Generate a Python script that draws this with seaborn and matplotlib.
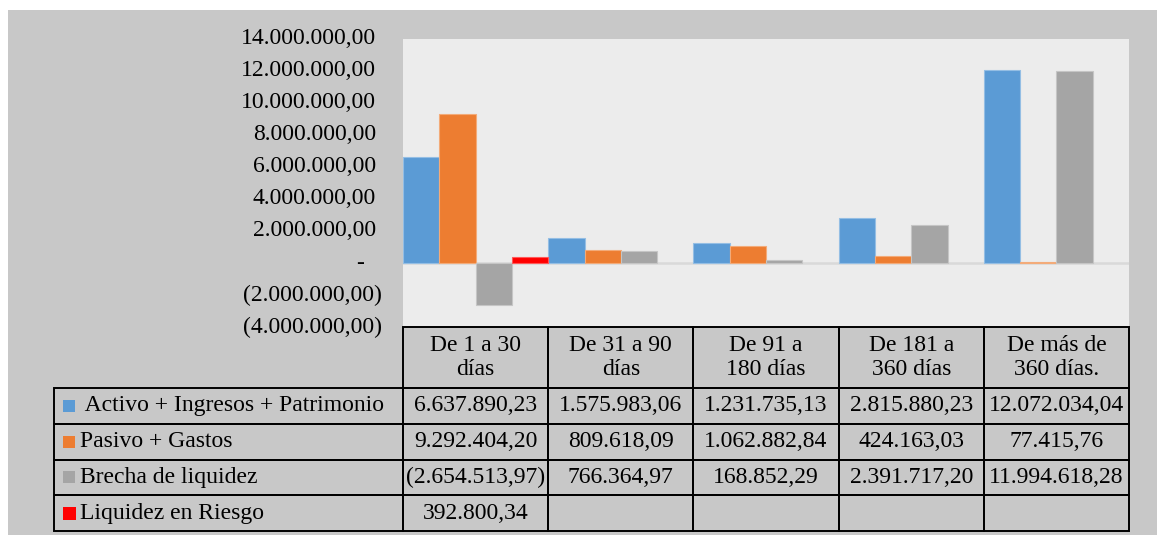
import matplotlib
matplotlib.use("Agg")
import matplotlib.pyplot as plt
from matplotlib import transforms
from matplotlib.patches import Rectangle
from matplotlib.table import Table
import matplotlib.colors as mcolors
import seaborn as sns
import pandas as pd

# ---- data -------------------------------------------------------------
periodos = ["De 1 a 30 días", "De 31 a 90 días", "De 91 a 180 días",
            "De 181 a 360 días", "De más de 360 días."]
encabezados = ["De 1 a 30\ndías", "De 31 a 90\ndías", "De 91 a\n180 días",
               "De 181 a\n360 días", "De más de\n360 días."]
series = ["Activo + Ingresos + Patrimonio", "Pasivo + Gastos",
          "Brecha de liquidez", "Liquidez en Riesgo"]
activo = [6637890.23, 1575983.06, 1231735.13, 2815880.23, 12072034.04]
pasivo = [9292404.20, 809618.09, 1062882.84, 424163.03, 77415.76]
brecha = [-2654513.97, 766364.97, 168852.29, 2391717.20, 11994618.28]
riesgo = [392800.34, None, None, None, None]
colores = ["#5b9bd5", "#ed7d31", "#a5a5a5", "#ff0000"]
yticks = [-4e6, -2e6, 0, 2e6, 4e6, 6e6, 8e6, 10e6, 12e6, 14e6]

valores = [activo, pasivo, brecha, riesgo]
FS = 17


def formato(v):
    """Spanish accounting style: 1.234,56 / (1.234,56) / -"""
    if v == 0:
        return "-"
    s = f"{abs(v):,.2f}".replace(",", "X").replace(".", ",").replace("X", ".")
    return f"({s})" if v < 0 else s


rows = []
for nombre, vals in zip(series, valores):
    for p, v in zip(periodos, vals):
        if v is not None:
            rows.append({"periodo": p, "serie": nombre, "valor": v})
df = pd.DataFrame(rows)

# ---- figure -----------------------------------------------------------
plt.rcParams["font.family"] = ["Liberation Serif", "DejaVu Serif"]
W, H = 1157, 535
fig = plt.figure(figsize=(W / 100, H / 100), dpi=100, facecolor="white")
fig.add_artist(Rectangle((8 / W, 0), 1 - 8 / W, 1 - 10 / H, transform=fig.transFigure,
                         facecolor="#c8c8c8", edgecolor="none", zorder=-5))

ax = fig.add_axes([403 / W, 1 - 327 / H, 726 / W, 288 / H])
ax.set_facecolor("#ececec")

sns.barplot(data=df, x="periodo", y="valor", hue="serie", order=periodos,
            hue_order=series, palette=colores, width=1.0, gap=0, saturation=1,
            errorbar=None, legend=False, ax=ax, zorder=2)

for bar in ax.patches:
    fc = mcolors.to_rgb(bar.get_facecolor())
    edge = tuple(c + (1 - c) * 0.35 for c in fc)
    bar.set_edgecolor(edge)
    bar.set_linewidth(0.8)

ax.axhline(0, color="#d9d9d9", lw=1.8, zorder=1)
ax.set_xlim(-0.5, len(periodos) - 0.5)
ax.set_ylim(yticks[0], yticks[-1])
ax.set_xticks([])
ax.set_yticks([])
ax.set_xlabel("")
ax.set_ylabel("")
for sp in ax.spines.values():
    sp.set_visible(False)

# y axis labels in accounting layout
ytr = transforms.blended_transform_factory(ax.transAxes, ax.transData)
for v in yticks:
    off = 39 if v == 0 else (21 if v < 0 else 27)
    tr = ytr + transforms.ScaledTranslation(-off / 100, 0, fig.dpi_scale_trans)
    ax.text(0, v, formato(v), transform=tr, ha="right", va="center",
            fontsize=FS, color="black", clip_on=False)

# ---- data table -------------------------------------------------------
x0 = (54 - 403) / 726
tw = (1129 - 54) / 726
th = 204 / 288
tabla = Table(ax, bbox=[x0, -th, tw, th])
lab_w, col_w = 349, 145.2
head_h, row_h = 61, 35.75
for j, enc in enumerate(encabezados, start=1):
    c = tabla.add_cell(0, j, col_w, head_h, text=enc, loc="center",
                       facecolor="none", edgecolor="black")
    c.get_text().set_multialignment("center")
    c.get_text().set_linespacing(1.2)
for i, (nombre, vals) in enumerate(zip(series, valores), start=1):
    etiqueta = (" " if i == 1 else "") + nombre
    c = tabla.add_cell(i, 0, lab_w, row_h, text=etiqueta, loc="left",
                       facecolor="none", edgecolor="black")
    c.PAD = 26 / lab_w
    for j, v in enumerate(vals, start=1):
        tabla.add_cell(i, j, col_w, row_h, text="" if v is None else formato(v),
                       loc="center", facecolor="none", edgecolor="black")
tabla.auto_set_font_size(False)
tabla.set_fontsize(FS)
for cell in tabla.get_celld().values():
    cell.set_linewidth(1.4)
ax.add_table(tabla)

# legend keys inside the label column
centros = [406, 441.5, 477, 513]
for color, cy in zip(colores, centros):
    s = 13 if color == "#ff0000" else 12
    fig.add_artist(Rectangle((63 / W, 1 - (cy + s / 2) / H), s / W, s / H,
                             transform=fig.transFigure, facecolor=color,
                             edgecolor="none", zorder=5))

fig.savefig("out.png", dpi=100, facecolor="white")
